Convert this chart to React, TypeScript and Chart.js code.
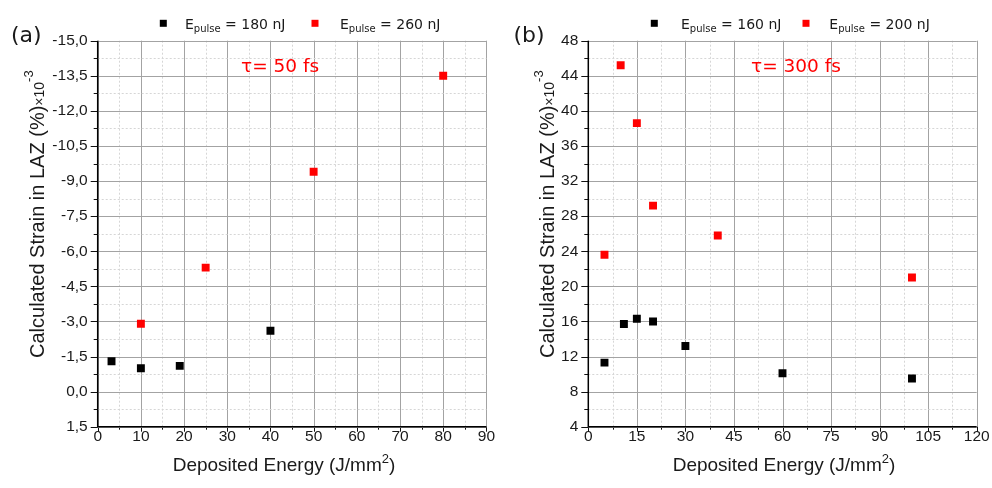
import React, { useEffect, useRef } from 'react';
import { Chart, registerables } from 'chart.js';
Chart.register(...registerables);

// ---------- Panel (a): tau = 50 fs ----------
const aTau = 50;
const aPulse = [180, 260];
const aBlackX = [3.2, 10, 19, 40];
const aBlackY = [-1.3, -1.0, -1.1, -2.6];
const aRedX = [10, 25, 50, 80];
const aRedY = [-2.9, -5.3, -9.4, -13.5];
const aXAxis = [0, 90, 10]; // min, max, step
const aYAxis = [-15, 1.5, 1.5];

// ---------- Panel (b): tau = 300 fs ----------
const bTau = 300;
const bPulse = [160, 200];
const bBlackX = [5, 11, 15, 20, 30, 60, 100];
const bBlackY = [11.3, 15.7, 16.3, 16.0, 13.2, 10.1, 9.5];
const bRedX = [5, 10, 15, 20, 40, 100];
const bRedY = [23.6, 45.2, 38.6, 29.2, 25.8, 21.0];
const bXAxis = [0, 120, 15];
const bYAxis = [4, 48, 4];

const W = 496;
const H = 488;
const TICK_FONT = { family: '"Liberation Sans", Arial, sans-serif', size: 15.5 };
const TITLE_FAMILY = '"Liberation Sans", Arial, sans-serif';
const DECOR_FAMILY = '"DejaVu Sans", sans-serif';

type PanelCfg = {
  tag: string;
  tau: number;
  pulses: number[];
  bx: number[]; by: number[]; rx: number[]; ry: number[];
  xa: number[]; ya: number[];
  reverse: boolean;
  comma: boolean;
  geo: { left: number; padRight: number; top: number; bottom: number };
  pos: { tagX: number; legSq: number[]; legTx: number[]; tauX: number; yTitleX: number; yTitleY: number; xTitleCX: number };
};

const PANELS: PanelCfg[] = [
  {
    tag: '(a)', tau: aTau, pulses: aPulse,
    bx: aBlackX, by: aBlackY, rx: aRedX, ry: aRedY,
    xa: aXAxis, ya: aYAxis, reverse: true, comma: true,
    geo: { left: 97.7, padRight: 8.3, top: 40.7, bottom: 426.7 },
    pos: { tagX: 11, legSq: [163.3, 315], legTx: [185, 340], tauX: 241, yTitleX: 44, yTitleY: 358, xTitleCX: 284 },
  },
  {
    tag: '(b)', tau: bTau, pulses: bPulse,
    bx: bBlackX, by: bBlackY, rx: bRedX, ry: bRedY,
    xa: bXAxis, ya: bYAxis, reverse: false, comma: false,
    geo: { left: 92.3, padRight: 15.3, top: 40.7, bottom: 426.7 },
    pos: { tagX: 17.5, legSq: [158.3, 310], legTx: [185, 333.3], tauX: 255, yTitleX: 58, yTitleY: 358, xTitleCX: 288 },
  },
];

function fmt(v: number, comma: boolean) {
  if (Math.abs(v) < 1e-9) v = 0;
  if (comma) return v.toFixed(1).replace('.', ',');
  return String(Math.round(v));
}

function decor(p: PanelCfg) {
  return {
    id: 'decor',
    beforeDatasetsDraw(chart: any) {
      const { ctx, chartArea: a, scales } = chart;
      const xs = scales.x, ys = scales.y;
      ctx.save();
      // grid: major solid, minor dotted
      const drawGrid = (sc: any, min: number, max: number, step: number, horizontal: boolean) => {
        const minor = step / 2;
        const n = Math.round((max - min) / minor);
        for (let i = 0; i <= n; i++) {
          const v = min + i * minor;
          const pix = Math.round(sc.getPixelForValue(v)) + 0.5;
          const major = i % 2 === 0;
          ctx.beginPath();
          ctx.lineWidth = 1;
          ctx.strokeStyle = major ? '#a3a3a3' : '#d6d6d6';
          ctx.setLineDash(major ? [] : [2, 2]);
          if (horizontal) { ctx.moveTo(pix, a.top); ctx.lineTo(pix, a.bottom); }
          else { ctx.moveTo(a.left, pix); ctx.lineTo(a.right, pix); }
          ctx.stroke();
          // tick marks
          ctx.setLineDash([]);
          ctx.strokeStyle = '#111';
          ctx.beginPath();
          if (horizontal) { ctx.moveTo(pix, a.bottom); ctx.lineTo(pix, a.bottom + (major ? 5 : 3)); }
          else { ctx.moveTo(a.left, pix); ctx.lineTo(a.left - (major ? 7 : 4), pix); }
          ctx.stroke();
        }
      };
      drawGrid(xs, p.xa[0], p.xa[1], p.xa[2], true);
      drawGrid(ys, p.ya[0], p.ya[1], p.ya[2], false);
      // axis lines
      ctx.setLineDash([]);
      ctx.strokeStyle = '#000';
      ctx.lineWidth = 1.5;
      ctx.beginPath();
      ctx.moveTo(a.left, a.top);
      ctx.lineTo(a.left, a.bottom);
      ctx.lineTo(a.right, a.bottom);
      ctx.stroke();
      ctx.restore();
    },
    afterDraw(chart: any) {
      const { ctx } = chart;
      const pos = p.pos;
      ctx.save();
      ctx.textAlign = 'left';
      ctx.textBaseline = 'alphabetic';
      // panel tag
      ctx.fillStyle = '#1a1a1a';
      ctx.font = `22px ${DECOR_FAMILY}`;
      ctx.fillText(p.tag, pos.tagX, 41.5);
      // legend
      const colors = ['#000000', '#ff0000'];
      for (let i = 0; i < 2; i++) {
        ctx.fillStyle = colors[i];
        ctx.fillRect(pos.legSq[i] - 3.5, 23.3 - 3.5, 7, 7);
        let x = pos.legTx[i];
        ctx.fillStyle = '#1a1a1a';
        ctx.font = `14px ${DECOR_FAMILY}`;
        ctx.fillText('E', x, 28.5);
        x += ctx.measureText('E').width;
        ctx.font = `10px ${DECOR_FAMILY}`;
        ctx.fillText('pulse', x, 32);
        x += ctx.measureText('pulse').width;
        ctx.font = `14px ${DECOR_FAMILY}`;
        ctx.fillText(` = ${p.pulses[i]} nJ`, x, 28.5);
      }
      // tau annotation
      ctx.fillStyle = '#ff0000';
      ctx.font = `18.5px ${DECOR_FAMILY}`;
      ctx.fillText(`τ= ${p.tau} fs`, pos.tauX, 72);
      // y title
      ctx.fillStyle = '#1a1a1a';
      ctx.save();
      ctx.translate(pos.yTitleX, pos.yTitleY);
      ctx.rotate(-Math.PI / 2);
      ctx.font = `20px ${TITLE_FAMILY}`;
      const main = 'Calculated Strain in LAZ (%)';
      ctx.fillText(main, 0, 0);
      let yx = ctx.measureText(main).width;
      ctx.font = `14px ${TITLE_FAMILY}`;
      ctx.fillText('×10', yx, 0);
      yx += ctx.measureText('×10').width;
      ctx.font = `13px ${TITLE_FAMILY}`;
      ctx.fillText('-3', yx, -11.5);
      ctx.restore();
      // x title
      ctx.font = `19px ${TITLE_FAMILY}`;
      const t1 = 'Deposited Energy (J/mm';
      const w1 = ctx.measureText(t1).width;
      const w3 = ctx.measureText(')').width;
      ctx.font = `13px ${TITLE_FAMILY}`;
      const w2 = ctx.measureText('2').width;
      let xx = pos.xTitleCX - (w1 + w2 + w3) / 2;
      ctx.font = `19px ${TITLE_FAMILY}`;
      ctx.fillText(t1, xx, 471);
      xx += w1;
      ctx.font = `13px ${TITLE_FAMILY}`;
      ctx.fillText('2', xx, 463);
      xx += w2;
      ctx.font = `19px ${TITLE_FAMILY}`;
      ctx.fillText(')', xx, 471);
      ctx.restore();
    },
  };
}

function Panel({ cfg, left }: { cfg: PanelCfg; left: number }) {
  const ref = useRef<HTMLCanvasElement>(null);
  useEffect(() => {
    const p = cfg;
    const mk = (xs: number[], ys: number[]) => xs.map((x, i) => ({ x, y: ys[i] }));
    const chart = new Chart(ref.current as HTMLCanvasElement, {
      type: 'scatter',
      data: {
        datasets: [
          { label: `E_pulse = ${p.pulses[0]} nJ`, data: mk(p.bx, p.by), backgroundColor: '#000000', borderColor: '#000000', borderWidth: 0, pointStyle: 'rect', pointRadius: 5.6 },
          { label: `E_pulse = ${p.pulses[1]} nJ`, data: mk(p.rx, p.ry), backgroundColor: '#ff0000', borderColor: '#ff0000', borderWidth: 0, pointStyle: 'rect', pointRadius: 5.6 },
        ],
      },
      options: {
        responsive: false,
        animation: false,
        layout: { padding: { top: p.geo.top, right: p.geo.padRight, left: 0, bottom: 0 } },
        plugins: { legend: { display: false }, tooltip: { enabled: false } },
        scales: {
          x: {
            type: 'linear', min: p.xa[0], max: p.xa[1],
            ticks: { stepSize: p.xa[2], autoSkip: false, maxRotation: 0, font: TICK_FONT, color: '#1a1a1a', padding: 1 },
            grid: { display: false, drawTicks: false },
            border: { display: false },
            afterFit: (s: any) => { s.height = H - p.geo.bottom; },
          },
          y: {
            type: 'linear', min: p.ya[0], max: p.ya[1], reverse: p.reverse,
            ticks: { stepSize: p.ya[2], font: TICK_FONT, color: '#1a1a1a', padding: 3, callback: (v: any) => fmt(Number(v), p.comma) },
            grid: { display: false, drawTicks: true, tickLength: 7 },
            border: { display: false },
            afterFit: (s: any) => { s.width = p.geo.left; },
          },
        },
      } as any,
      plugins: [decor(p)],
    });
    return () => chart.destroy();
  }, [cfg]);
  return (
    <canvas ref={ref} width={W} height={H}
      style={{ position: 'absolute', left, top: 0, width: W, height: H }} />
  );
}

export default function App() {
  return (
    <div style={{ position: 'fixed', left: 0, top: 0, width: 992, height: 488, background: '#fff' }}>
      <Panel cfg={PANELS[0]} left={0} />
      <Panel cfg={PANELS[1]} left={496} />
    </div>
  );
}
